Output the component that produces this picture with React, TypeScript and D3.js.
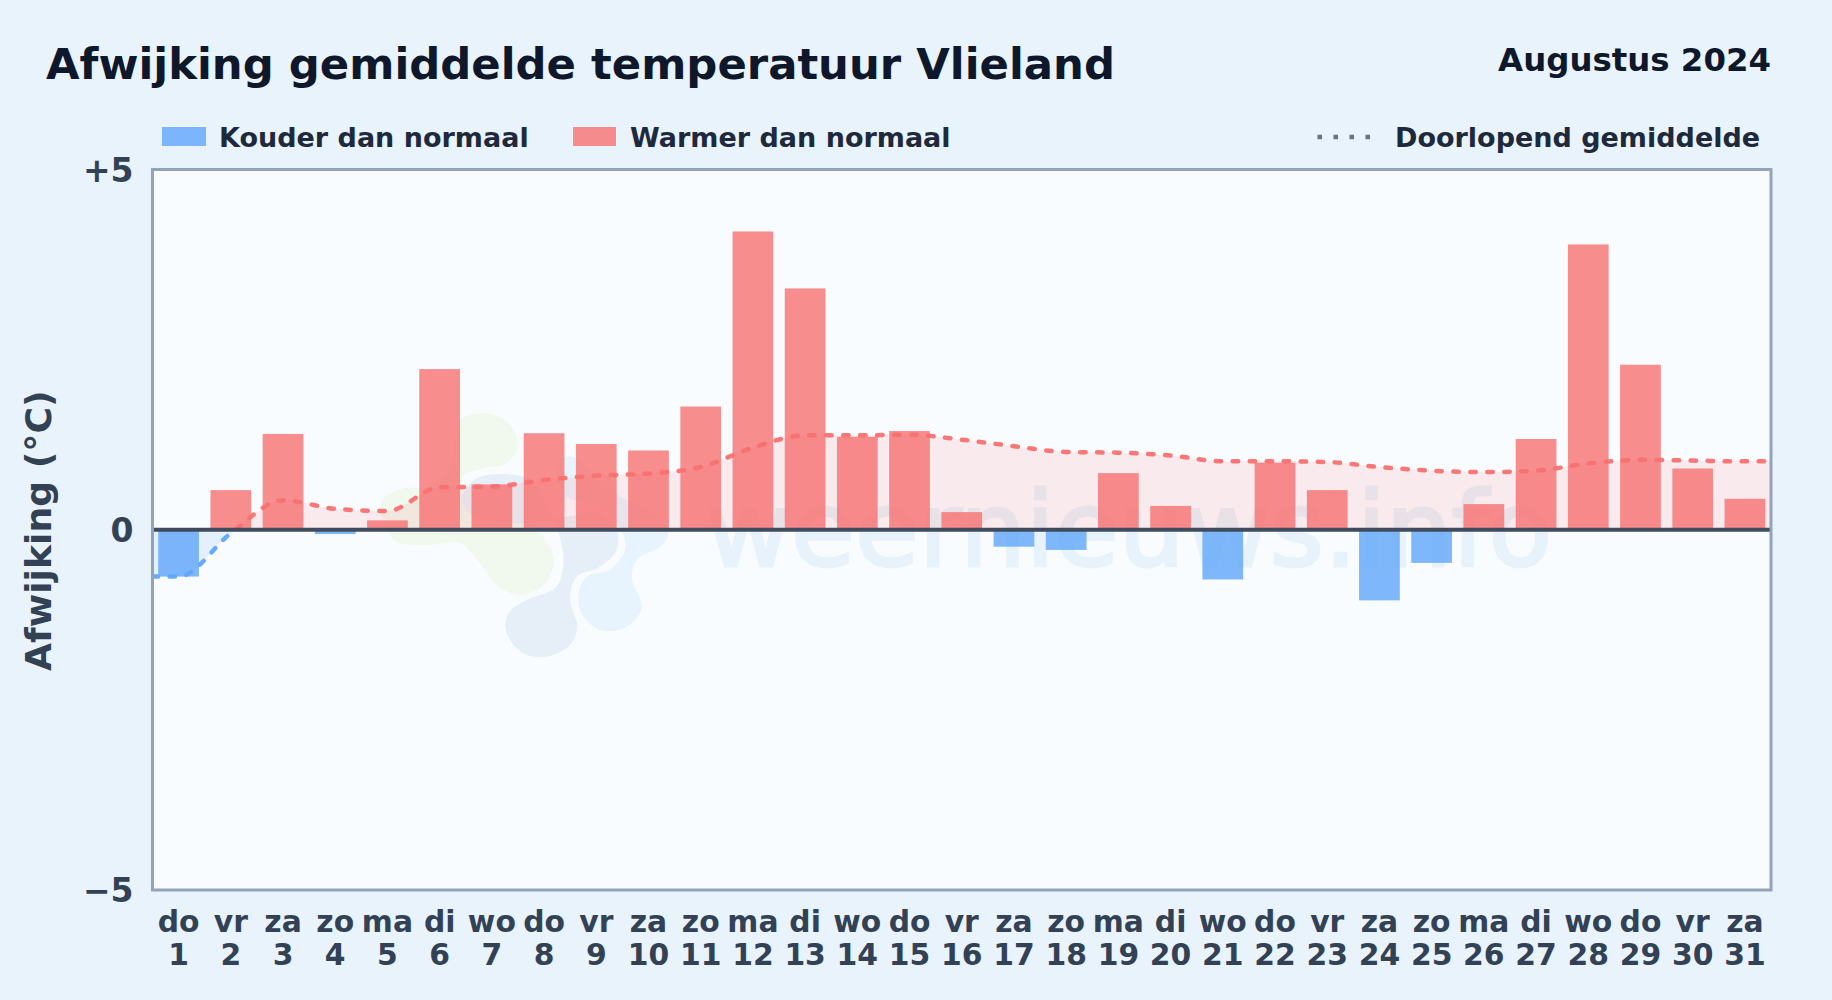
import { useEffect, useRef } from 'react';
import * as d3 from 'd3';

const width = 1832;
const height = 1000;
const margin = { top: 169.5, right: 61, bottom: 110, left: 152.5 };

const days = d3.range(1, 32);
const weekdays = [
  'do', 'vr', 'za', 'zo', 'ma', 'di', 'wo', 'do', 'vr', 'za', 'zo', 'ma', 'di', 'wo', 'do', 'vr',
  'za', 'zo', 'ma', 'di', 'wo', 'do', 'vr', 'za', 'zo', 'ma', 'di', 'wo', 'do', 'vr', 'za',
];
const deviation = [
  -0.65, 0.55, 1.33, -0.06, 0.13, 2.23, 0.63, 1.34, 1.19, 1.1, 1.71, 4.14, 3.35, 1.29, 1.37, 0.245,
  -0.235, -0.28, 0.786, 0.33, -0.69, 0.93, 0.55, -0.98, -0.46, 0.356, 1.26, 3.96, 2.29, 0.85, 0.43,
];
const runningMean = [
  -0.65, -0.05, 0.41, 0.29, 0.26, 0.59, 0.6, 0.69, 0.75, 0.78, 0.87, 1.14, 1.31, 1.31, 1.32, 1.25,
  1.16, 1.08, 1.07, 1.03, 0.95, 0.95, 0.94, 0.87, 0.82, 0.8, 0.82, 0.92, 0.97, 0.96, 0.95,
];
const yTicks = [5, 0, -5];
const yTickLabels = ['+5', '0', '\u22125'];

// watermark blobs, in zoomed crop units
const logoGreen = [
  [300, 60], [380, 40], [450, 75], [472, 140], [440, 190], [370, 205], [315, 225], [300, 260], [330, 320], [420, 345], [530, 390],
  [580, 470], [560, 545], [480, 585], [410, 555], [360, 490], [300, 430], [200, 435], [110, 425], [70, 370], [68, 300], [130, 265], [200, 260], [270, 200], [285, 120],
];
const logoBlue = [
  [305, 290], [350, 235], [430, 222], [510, 240], [570, 330], [600, 410], [610, 490], [590, 560], [500, 600], [445, 640], [440, 700], [490, 760],
  [560, 770], [630, 735], [652, 680], [630, 600], [650, 530], [720, 500], [770, 450], [770, 390], [720, 340], [620, 350], [500, 370], [400, 360], [330, 340],
];
const logoLight = [
  [600, 180], [640, 170], [700, 230], [780, 290], [880, 340], [925, 400], [900, 440], [835, 475], [815, 530], [845, 625], [800, 680], [730, 692],
  [670, 650], [655, 590], [680, 530], [750, 510], [795, 450], [785, 390], [720, 320], [620, 290], [590, 230],
];

export default function App() {
  const svgRef = useRef<SVGSVGElement>(null);

  useEffect(() => {
    if (!svgRef.current) return;

    const svg = d3.select(svgRef.current);
    svg.selectAll('*').remove();

    const chartWidth = width - margin.left - margin.right;
    const chartHeight = height - margin.top - margin.bottom;
    const font = '"DejaVu Sans", sans-serif';

    svg.append('rect').attr('width', width).attr('height', height).attr('fill', '#e8f3fc');

    const xScale = d3
      .scaleBand<number>()
      .domain(days)
      .range([0, chartWidth])
      .paddingInner(0.22)
      .paddingOuter(0.11);
    const dayX = d3.scaleLinear().domain([0.5, 31.5]).range([0, chartWidth]);
    const yScale = d3.scaleLinear().domain([-5, 5]).range([chartHeight, 0]);
    const y0 = yScale(0);

    const defs = svg.append('defs');
    defs.append('clipPath').attr('id', 'above').append('rect').attr('width', chartWidth).attr('height', y0);
    defs
      .append('clipPath')
      .attr('id', 'below')
      .append('rect')
      .attr('y', y0)
      .attr('width', chartWidth)
      .attr('height', chartHeight - y0);

    // Title block
    svg.append('text').attr('x', 46).attr('y', 79.2).attr('font-family', font).attr('font-weight', 700)
      .attr('font-size', 43.35).attr('fill', '#0f172a').text('Afwijking gemiddelde temperatuur Vlieland');
    svg.append('text').attr('x', 1771).attr('y', 70.5).attr('text-anchor', 'end').attr('font-family', font).attr('font-weight', 700)
      .attr('font-size', 32.4).attr('fill', '#0f172a').text('Augustus 2024');

    // Legend
    const legendText = (x: number, label: string) =>
      svg.append('text').attr('x', x).attr('y', 146.5).attr('font-family', font).attr('font-weight', 700)
        .attr('font-size', 27).attr('fill', '#1e293b').text(label);
    svg.append('rect').attr('x', 162).attr('y', 127).attr('width', 44).attr('height', 19).attr('fill', '#60a5fa').attr('opacity', 0.8);
    legendText(219, 'Kouder dan normaal');
    svg.append('rect').attr('x', 573).attr('y', 127).attr('width', 43).attr('height', 19).attr('fill', '#f87171').attr('opacity', 0.8);
    legendText(630, 'Warmer dan normaal');
    svg.append('line').attr('x1', 1317.5).attr('x2', 1373).attr('y1', 137).attr('y2', 137)
      .attr('stroke', '#64748b').attr('stroke-width', 4.5).attr('stroke-dasharray', '4.5 11.5');
    legendText(1395, 'Doorlopend gemiddelde');

    const g = svg.append('g').attr('transform', `translate(${margin.left},${margin.top})`);

    g.append('rect').attr('width', chartWidth).attr('height', chartHeight).attr('fill', '#f8fcff');

    // Watermark, under everything else in the plot
    const blob = d3.line().curve(d3.curveCatmullRomClosed.alpha(0.5));
    const mark = g.append('g').attr('transform', `translate(${-margin.left},${-margin.top})`);
    const logo = mark.append('g').attr('transform', 'translate(360,400) scale(0.3333)');
    logo.append('path').attr('d', blob(logoGreen as [number, number][])).attr('fill', '#f1f8ee');
    logo.append('path').attr('d', blob(logoLight as [number, number][])).attr('fill', '#e7f4fd');
    logo.append('path').attr('d', blob(logoBlue as [number, number][])).attr('fill', '#e6eff8');
    mark.append('text').attr('x', 706).attr('y', 566).attr('font-family', font).attr('font-size', 104)
      .attr('fill', '#1e78c8').attr('stroke', '#1e78c8').attr('stroke-width', 3).attr('opacity', 0.07).text('weernieuws.info');

    // Shaded area between running mean and zero
    const lineDays = [0.5, ...days, 31.5];
    const lineValues = [runningMean[0], ...runningMean, runningMean[runningMean.length - 1]];
    const area = d3
      .area<number>()
      .x((d) => dayX(d))
      .y0(y0)
      .y1((_, i) => yScale(lineValues[i]))
      .curve(d3.curveMonotoneX);
    const line = d3
      .line<number>()
      .x((d) => dayX(d))
      .y((_, i) => yScale(lineValues[i]))
      .curve(d3.curveMonotoneX);

    g.append('path').datum(lineDays).attr('clip-path', 'url(#above)').attr('fill', '#f87171').attr('fill-opacity', 0.13).attr('d', area);
    g.append('path').datum(lineDays).attr('clip-path', 'url(#below)').attr('fill', '#60a5fa').attr('fill-opacity', 0.13).attr('d', area);

    // Bars
    g.selectAll('rect.bar')
      .data(days)
      .enter()
      .append('rect')
      .attr('class', 'bar')
      .attr('x', (d) => xScale(d) as number)
      .attr('width', xScale.bandwidth())
      .attr('y', (_, i) => Math.min(yScale(deviation[i]), y0))
      .attr('height', (_, i) => Math.abs(yScale(deviation[i]) - y0))
      .attr('fill', (_, i) => (deviation[i] < 0 ? '#60a5fa' : '#f87171'))
      .attr('opacity', 0.8);

    // Running mean, red above zero and blue below
    [
      { clip: 'above', color: '#f87171' },
      { clip: 'below', color: '#60a5fa' },
    ].forEach(({ clip, color }) => {
      g.append('g')
        .attr('clip-path', `url(#${clip})`)
        .append('path')
        .datum(lineDays)
        .attr('fill', 'none')
        .attr('stroke', color)
        .attr('stroke-width', 4.5)
        .attr('stroke-dasharray', '5.5 11.5')
        .attr('stroke-linecap', 'round')
        .attr('opacity', 0.95)
        .attr('d', line);
    });

    // Zero line
    g.append('line').attr('x1', 0).attr('x2', chartWidth).attr('y1', y0).attr('y2', y0).attr('stroke', '#414b5e').attr('stroke-width', 4);

    // Frame
    g.append('rect').attr('width', chartWidth).attr('height', chartHeight).attr('fill', 'none').attr('stroke', '#94a3b8').attr('stroke-width', 3);

    // Y axis
    const yAxis = g.append('g').call(
      d3
        .axisLeft(yScale)
        .tickValues(yTicks)
        .tickSize(0)
        .tickPadding(19)
        .tickFormat((_, i) => yTickLabels[i])
    );
    yAxis.select('.domain').remove();
    yAxis.selectAll('text').attr('font-family', font).attr('font-weight', 700).attr('font-size', 33).attr('fill', '#334155').attr('dy', '0.36em');

    // X axis, weekday over day number
    const xAxis = g.append('g').attr('transform', `translate(0,${chartHeight})`).call(d3.axisBottom(xScale).tickSize(0));
    xAxis.select('.domain').remove();
    xAxis.selectAll<SVGTextElement, number>('text').each(function (d) {
      const t = d3.select(this).text(null).attr('font-family', font).attr('font-weight', 700).attr('font-size', 29.8).attr('fill', '#334155').attr('y', 0).attr('dy', null);
      t.append('tspan').attr('x', 0).attr('y', 41.5).text(weekdays[d - 1]);
      t.append('tspan').attr('x', 0).attr('y', 75).text(String(d));
    });

    // Y axis title
    svg.append('text')
      .attr('transform', `translate(51,${margin.top + chartHeight / 2 + 1}) rotate(-90)`)
      .attr('text-anchor', 'middle')
      .attr('font-family', font)
      .attr('font-weight', 700)
      .attr('font-size', 36.2)
      .attr('fill', '#334155')
      .text('Afwijking (\u00b0C)');
  }, []);

  return (
    <svg
      ref={svgRef}
      width={width}
      height={height}
      viewBox={`0 0 ${width} ${height}`}
      style={{ position: 'fixed', top: 0, left: 0, display: 'block' }}
    />
  );
}
